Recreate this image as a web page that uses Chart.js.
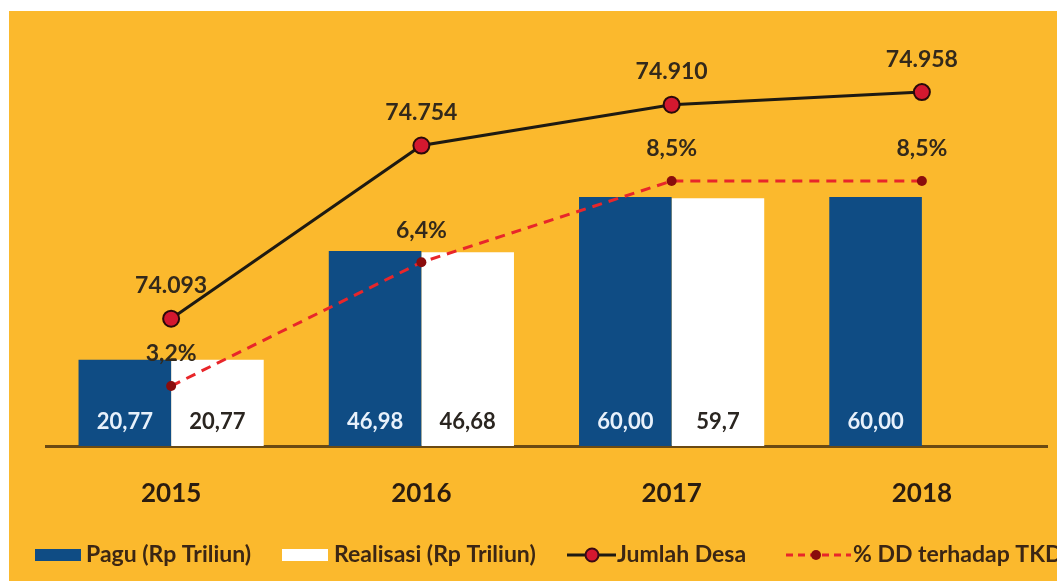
<!DOCTYPE html>
<html>
<head>
<meta charset="utf-8">
<script src="https://cdn.jsdelivr.net/npm/chart.js@4"></script>
<style>
  html, body { margin:0; padding:0; background:#ffffff; }
  #wrap { position:relative; width:1057px; height:581px; overflow:hidden; }
  #panel { position:absolute; left:9px; top:11px; width:1048px; height:570px; background:#FBB92D; }
  #box { position:absolute; left:0; top:0; width:1057px; height:581px; }
</style>
</head>
<body>
<div id="wrap">
  <div id="panel"></div>
  <div id="box"><canvas id="c"></canvas></div>
</div>
<script>
const categories = ['2015', '2016', '2017', '2018'];
const pagu = [20.77, 46.98, 60.00, 60.00];
const realisasi = [20.77, 46.68, 59.7, null];
const jumlahDesa = [74093, 74754, 74910, 74958];
const persenDD = [3.2, 6.4, 8.5, 8.5];
const seriesNames = ['Pagu (Rp Triliun)', 'Realisasi (Rp Triliun)', 'Jumlah Desa', '% DD terhadap TKD'];

const fmtPagu = v => v.toFixed(2).replace('.', ',');
const fmtReal = v => String(v).replace('.', ',');
const fmtDesa = v => Math.floor(v / 1000) + '.' + String(v % 1000).padStart(3, '0');
const fmtPct = v => v.toFixed(1).replace('.', ',') + '%';

const NAVY = '#0F4C84';
const TXT = '#33291b';
const LEG = '#3b2614';
const FONT = 'Lato, "Open Sans", sans-serif';

const labelsPlugin = {
  id: 'valueLabels',
  afterDatasetsDraw(chart) {
    const ctx = chart.ctx;
    ctx.save();
    ctx.textAlign = 'center';
    ctx.textBaseline = 'middle';
    const base = chart.scales.y.getPixelForValue(0);
    ctx.font = 'bold 22px ' + FONT;
    chart.getDatasetMeta(0).data.forEach((el, i) => {
      if (pagu[i] == null) return;
      ctx.fillStyle = '#e8f1fb';
      ctx.fillText(fmtPagu(pagu[i]), el.x, base - 24);
    });
    chart.getDatasetMeta(1).data.forEach((el, i) => {
      if (realisasi[i] == null) return;
      ctx.fillStyle = '#2a2520';
      ctx.fillText(fmtReal(realisasi[i]), el.x, base - 24);
    });
    ctx.font = 'bold 23px ' + FONT;
    ctx.fillStyle = TXT;
    chart.getDatasetMeta(2).data.forEach((el, i) => {
      ctx.fillText(fmtDesa(jumlahDesa[i]), el.x, el.y - 33);
    });
    chart.getDatasetMeta(3).data.forEach((el, i) => {
      ctx.fillText(fmtPct(persenDD[i]), el.x, el.y - 32);
    });
    ctx.restore();
  }
};

const legendPlugin = {
  id: 'customLegend',
  afterDraw(chart) {
    const ctx = chart.ctx;
    ctx.save();
    const cy = 555;
    ctx.font = 'bold 23px ' + FONT;
    ctx.textBaseline = 'middle';
    ctx.textAlign = 'left';
    // item 1
    ctx.fillStyle = NAVY;
    ctx.fillRect(35, cy - 6, 46, 12);
    ctx.fillStyle = LEG;
    ctx.fillText(seriesNames[0], 86, cy);
    // item 2
    ctx.fillStyle = '#ffffff';
    ctx.fillRect(282, cy - 6, 46, 12);
    ctx.fillStyle = LEG;
    ctx.fillText(seriesNames[1], 334, cy);
    // item 3
    ctx.strokeStyle = '#1e1a12';
    ctx.lineWidth = 3;
    ctx.beginPath(); ctx.moveTo(567, cy); ctx.lineTo(616, cy); ctx.stroke();
    ctx.beginPath(); ctx.arc(592, cy, 6.5, 0, Math.PI * 2);
    ctx.fillStyle = '#d4182f'; ctx.fill();
    ctx.lineWidth = 2; ctx.strokeStyle = '#3a0a14'; ctx.stroke();
    ctx.fillStyle = LEG;
    ctx.fillText(seriesNames[2], 617, cy);
    // item 4
    ctx.strokeStyle = '#e8262a';
    ctx.lineWidth = 3;
    ctx.setLineDash([7, 5]);
    ctx.beginPath(); ctx.moveTo(786, cy); ctx.lineTo(851, cy); ctx.stroke();
    ctx.setLineDash([]);
    ctx.beginPath(); ctx.arc(816, cy, 5, 0, Math.PI * 2);
    ctx.fillStyle = '#8a0c0c'; ctx.fill();
    ctx.fillStyle = LEG;
    ctx.fillText(seriesNames[3], 853, cy);
    ctx.restore();
  }
};

new Chart(document.getElementById('c'), {
  data: {
    labels: categories,
    datasets: [
      { type: 'bar', label: seriesNames[0], data: pagu, backgroundColor: NAVY, yAxisID: 'y', order: 2,
        categoryPercentage: 0.74, barPercentage: 1.0 },
      { type: 'bar', label: seriesNames[1], data: realisasi, backgroundColor: '#ffffff', yAxisID: 'y', order: 2,
        categoryPercentage: 0.74, barPercentage: 1.0 },
      { type: 'line', label: seriesNames[2], data: jumlahDesa, yAxisID: 'y1', order: 0,
        borderColor: '#1e1a12', borderWidth: 3, tension: 0,
        pointRadius: 8, pointBackgroundColor: '#d4182f', pointBorderColor: '#2a0a0a', pointBorderWidth: 2 },
      { type: 'line', label: seriesNames[3], data: persenDD, yAxisID: 'y2', order: 1,
        borderColor: '#e8262a', borderWidth: 3, borderDash: [10, 7], tension: 0,
        pointRadius: 5, pointBackgroundColor: '#8a0c0c', pointBorderColor: '#8a0c0c', pointBorderWidth: 0 }
    ]
  },
  options: {
    responsive: true,
    maintainAspectRatio: false,
    animation: false,
    layout: { padding: { left: 46, right: 7, top: 46, bottom: 0 } },
    plugins: { legend: { display: false }, tooltip: { enabled: false } },
    scales: {
      x: {
        type: 'category',
        offset: true,
        grid: { display: true, drawOnChartArea: false, drawTicks: false, color: 'rgba(0,0,0,0)' },
        border: { display: true, color: '#6b4a12', width: 3 },
        ticks: { color: '#2a1c10', font: { family: FONT, size: 26, weight: 'bold' }, padding: 32 },
        afterFit(scale) { scale.height = 581 - 446; }
      },
      y: { display: false, min: 0, max: 96.4 },
      y1: { display: false, min: 73607, max: 75134 },
      y2: { display: false, min: 1.65, max: 11.99 }
    }
  },
  plugins: [labelsPlugin, legendPlugin]
});
</script>
</body>
</html>
